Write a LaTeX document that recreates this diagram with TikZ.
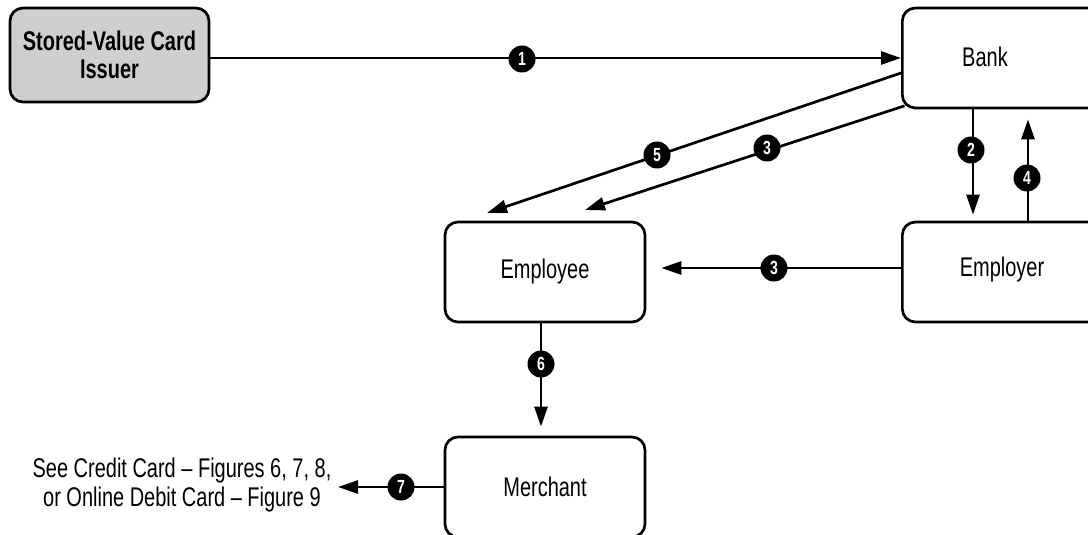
\documentclass[tikz,border=0pt]{standalone}
\usepackage{fontspec}
\setmainfont{Liberation Sans}[FakeStretch=0.74]
\usetikzlibrary{arrows.meta}

\begin{document}
\begin{tikzpicture}[x=1pt,y=-1pt,
  box/.style={draw, line width=2.7pt, rounded corners=13pt, minimum width=200pt,
    minimum height=100pt, inner sep=0pt, font=\fontsize{27}{30}\selectfont},
  badge/.style={circle, fill=black, minimum size=27pt, inner sep=0pt, text=white,
    font=\fontsize{19}{19}\selectfont\bfseries},
  flow/.style={line width=2.7pt, -{Triangle[length=20pt,width=13pt]}},
  lbl/.style={font=\fontsize{27}{29}\selectfont, align=center}
]
\useasboundingbox (0,0) rectangle (1088,535);
\begin{scope}
\clip (0,0) rectangle (1088,535);

% boxes
\node[box, fill=black!19, minimum width=199pt, minimum height=94pt, align=center,
  font=\fontsize{27}{28}\selectfont\bfseries] (issuer) at (109.5,55)
  {Stored-Value Card\\Issuer};
\node[box, anchor=west, minimum width=230pt] (bank) at (901,58) {};
\node[lbl] (banktext) at (985,57) {Bank};
\node[box, anchor=west, minimum width=230pt] (employer) at (901,272) {};
\node[lbl] (employertext) at (1002,270) {Employer};
\node[box] (employee) at (545,272) {Employee};
\node[box] (merchant) at (545,487) {Merchant};
\node[lbl] (seecard) at (182,485)
  {See Credit Card -- Figures 6, 7, 8,\\or Online Debit Card -- Figure 9};

% free ends of the arrows
\coordinate (e5) at (487,213);
\coordinate (e3) at (585,210);
\coordinate (e7) at (338,487);

% connectors
\draw[flow] (issuer.east |- bank.west) -- (bank.west);
\draw[flow] ([yshift=-15pt]bank.west) -- (e5);
\draw[flow] ([shift={(3.5pt,3.5pt)}]bank.south west) -- (e3);
\draw[flow, shorten >=6pt] ([xshift=72pt]bank.south west) -- ([xshift=72pt]employer.north west);
\draw[flow, shorten >=10pt] ([xshift=127pt]employer.north west) -- ([xshift=127pt]bank.south west);
\draw[flow, shorten >=15pt] ([yshift=4pt]employer.west) -- ([yshift=4pt]employee.east);
\draw[flow, shorten >=9pt] ([xshift=-4pt]employee.south) -- ([xshift=-4pt]merchant.north);
\draw[flow] (merchant.west) -- (e7);

% step numbers
\node[badge] (b1) at (522,59) {1};
\node[badge] (b2) at (971,150) {2};
\node[badge] (b3a) at (767,148) {3};
\node[badge] (b4) at (1027,178) {4};
\node[badge] (b5) at (657,155) {5};
\node[badge] (b3b) at (774,268) {3};
\node[badge] (b6) at (541,364) {6};
\node[badge] (b7) at (401,487) {7};
\end{scope}
\end{tikzpicture}
\end{document}
